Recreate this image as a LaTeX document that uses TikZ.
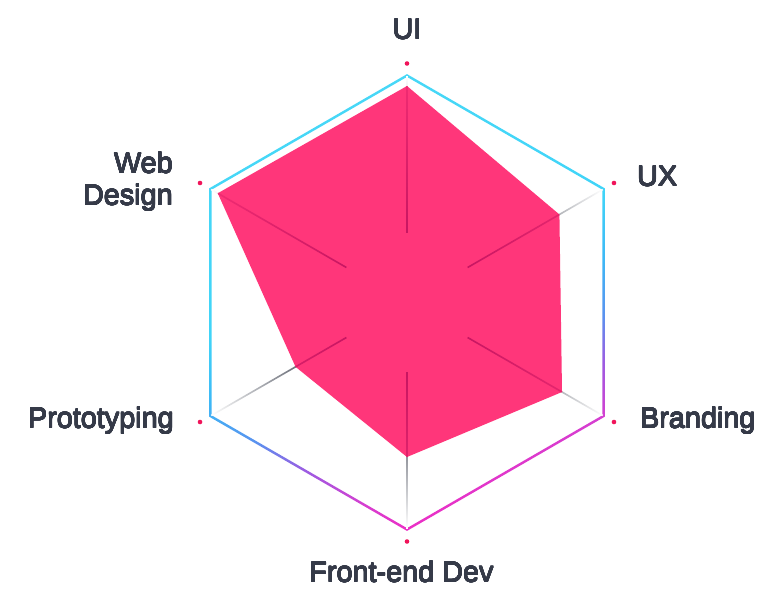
\documentclass[tikz,border=0pt]{standalone}
\usepackage{fontspec}
\setmainfont{Liberation Sans}
\usepackage{contour}
\contourlength{0.3pt}
\contournumber{16}
\usetikzlibrary{positioning}

\definecolor{skillpink}{RGB}{255,54,122}
\definecolor{dotpink}{RGB}{240,20,90}
\definecolor{labelgray}{RGB}{53,58,72}
\definecolor{axisdark}{RGB}{22,28,44}
\definecolor{pinkdark}{RGB}{200,22,98}
\definecolor{pinkmid}{RGB}{242,44,115}
\definecolor{ringmag}{RGB}{234,48,198}
\definecolor{ringmagpur}{RGB}{214,62,208}
\definecolor{ringpur}{RGB}{156,92,226}
\definecolor{ringblue}{RGB}{90,146,239}
\definecolor{ringlblue}{RGB}{61,184,246}
\definecolor{ringcyan}{RGB}{64,212,248}
\definecolor{ringtop}{RGB}{80,220,246}
\pgfdeclareverticalshading{hexring}{100bp}{color(0bp)=(ringmag); color(26bp)=(ringmag);
  color(30bp)=(ringmagpur); color(36bp)=(ringpur); color(41bp)=(ringblue);
  color(47bp)=(ringlblue); color(54bp)=(ringcyan); color(100bp)=(ringtop)}
\newcommand{\skilltext}[1]{\contour{labelgray}{#1}}

\begin{document}
\begin{tikzpicture}[x=1pt,y=1pt,
  skill label/.style={font=\fontsize{28.8}{32}\selectfont,text=labelgray,inner sep=0pt},
  skill dot/.style={circle,fill=dotpink,inner sep=0pt,minimum size=4.6pt}]
  \useasboundingbox (-407,-287.5) rectangle (350,302.5);

  % frame
  \shade[shading=hexring,shading angle=20,even odd rule]
    (90:228.4) \foreach \a in {30,-30,-90,-150,150} {-- (\a:228.4)} -- cycle
    (90:225.6) \foreach \a in {30,-30,-90,-150,150} {-- (\a:225.6)} -- cycle;

  % axes
  \foreach \a in {90,30,-30,-90,-150,150} {
    \begin{scope}[transform canvas={rotate=\a}]
      \shade[left color=axisdark,right color=white] (70,-0.8) rectangle (226,0.8);
    \end{scope}
  }

  % values
  \path (90:216.5) coordinate (ui) (30:176) coordinate (ux)
    (-30:179) coordinate (branding) (-90:154.5) coordinate (frontend)
    (210:128.7) coordinate (proto) (150:218.5) coordinate (webdesign);
  \fill[skillpink] (ui) -- (ux) -- (branding) -- (frontend) -- (proto) -- (webdesign) -- cycle;
  \begin{scope}
    \clip (ui) -- (ux) -- (branding) -- (frontend) -- (proto) -- (webdesign) -- cycle;
    \foreach \a in {90,30,-30,-90,-150,150} {
      \begin{scope}[transform canvas={rotate=\a}]
        \shade[left color=pinkdark,right color=pinkmid] (70,-0.8) rectangle (226,0.8);
      \end{scope}
    }
  \end{scope}

  \node[skill dot] (ui dot) at (90:239) {};
  \node[skill dot] (ux dot) at (30:239) {};
  \node[skill dot] (branding dot) at (-30:239) {};
  \node[skill dot] (frontend dot) at (-90:239) {};
  \node[skill dot] (proto dot) at (210:239) {};
  \node[skill dot] (webdesign dot) at (150:239) {};

  \node[skill label,anchor=base] (ui label) at (0,263.5) {\skilltext{UI}};
  \node[skill label,anchor=base west] (ux label) at (230,116.5) {\skilltext{UX}};
  \node[skill label,anchor=base west] (branding label) at (233,-125.5) {\skilltext{Branding}};
  \node[skill label,anchor=base] (frontend label) at (-5.5,-279.5) {\skilltext{Front-end Dev}};
  \node[skill label,anchor=base east] (proto label) at (-233,-125.5) {\skilltext{Prototyping}};
  \node[skill label,anchor=base east,align=right] (webdesign label) at (-234,97.5) {\skilltext{Web}\\\skilltext{Design}};
\end{tikzpicture}
\end{document}
